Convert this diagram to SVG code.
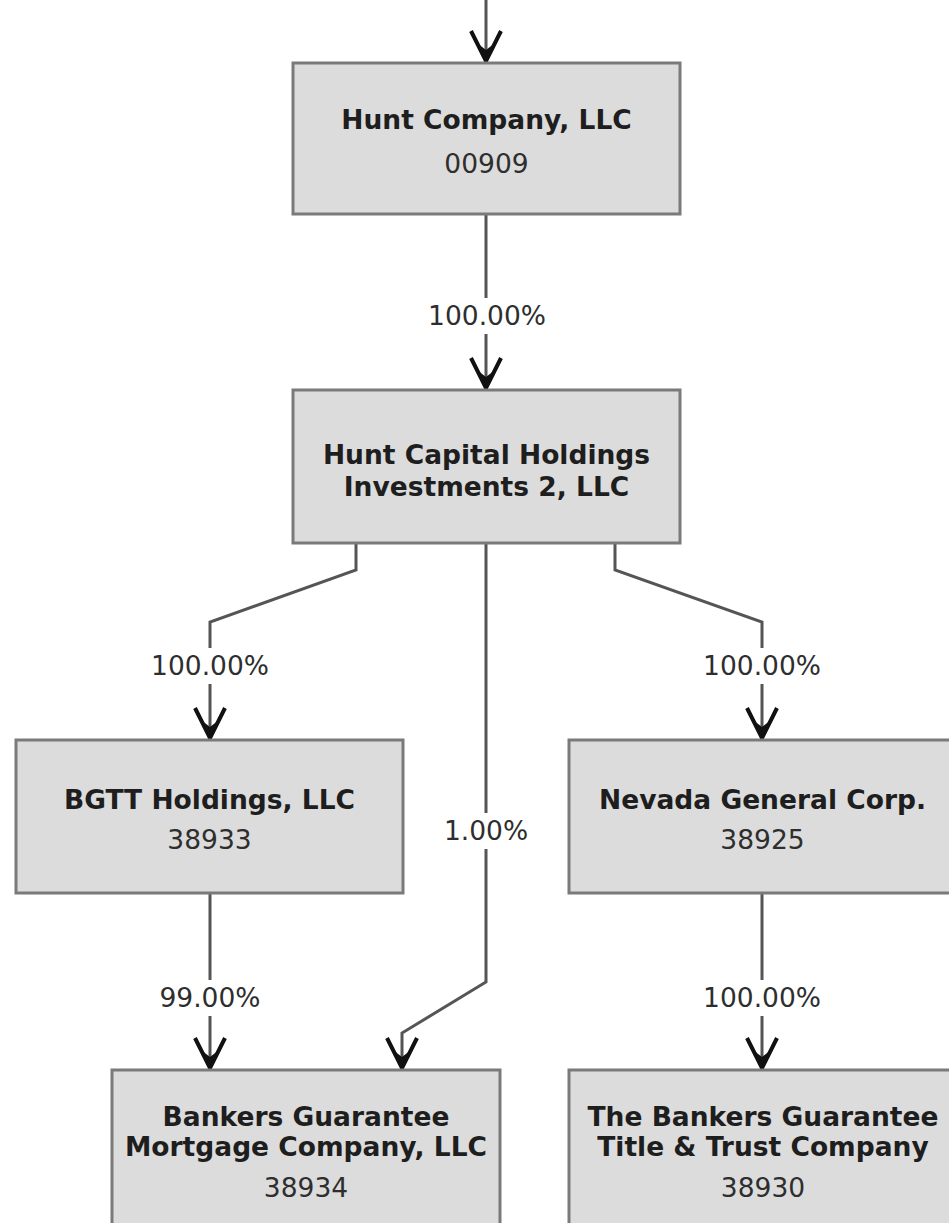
<svg xmlns="http://www.w3.org/2000/svg" width="949" height="1223" viewBox="0 0 949 1223">
  <style>
    .box { fill: #dcdcdc; stroke: #7a7a7a; stroke-width: 3; }
    .title { font-family: "DejaVu Sans", Verdana, sans-serif; font-size: 26.5px; font-weight: bold; fill: #1e1e1e; text-anchor: middle; }
    .num { font-family: "DejaVu Sans", Verdana, sans-serif; font-size: 26.5px; fill: #2e2e2e; text-anchor: middle; }
    .lbl { font-family: "DejaVu Sans", Verdana, sans-serif; font-size: 26.5px; fill: #2e2e2e; text-anchor: middle; }
    .conn { fill: none; stroke: #555; stroke-width: 3; marker-end: url(#arrow); }
    .lblbg { fill: #ffffff; }
  </style>
  <defs>
    <marker id="arrow" markerUnits="userSpaceOnUse" viewBox="-36 -18 40 36" refX="0" refY="0" markerWidth="40" markerHeight="36" orient="auto">
      <path d="M-32,-15 L-2,0 L-32,15" fill="none" stroke="#111" stroke-width="4"/>
      <path d="M0,0 L-20,-9 L-13,0 L-20,9 Z" fill="#111"/>
    </marker>
  </defs>
  <rect x="0" y="0" width="949" height="1223" fill="#ffffff"/>

  <g id="connectors">
    <path class="conn" d="M486,0 L486,63"/>
    <path class="conn" d="M486,214 L486,390"/>
    <path class="conn" d="M356,543 L356,570 L210,622 L210,740"/>
    <path class="conn" d="M486,543 L486,982 L402,1033 L402,1070"/>
    <path class="conn" d="M615,543 L615,570 L762,622 L762,740"/>
    <path class="conn" d="M210,893 L210,1070"/>
    <path class="conn" d="M762,893 L762,1070"/>
    <g id="labels">
      <rect class="lblbg" x="425" y="298" width="124" height="36"/>
      <text class="lbl" x="487" y="325">100.00%</text>
      <rect class="lblbg" x="148" y="648" width="124" height="36"/>
      <text class="lbl" x="210" y="675">100.00%</text>
      <rect class="lblbg" x="700" y="648" width="124" height="36"/>
      <text class="lbl" x="762" y="675">100.00%</text>
      <rect class="lblbg" x="441" y="813" width="90" height="36"/>
      <text class="lbl" x="486" y="840">1.00%</text>
      <rect class="lblbg" x="158" y="980" width="104" height="36"/>
      <text class="lbl" x="210" y="1007">99.00%</text>
      <rect class="lblbg" x="700" y="980" width="124" height="36"/>
      <text class="lbl" x="762" y="1007">100.00%</text>
    </g>
  </g>

  <g id="hunt-company">
    <rect class="box" x="293" y="63" width="387" height="151"/>
    <text class="title" x="486.5" y="129">Hunt Company, LLC</text>
    <text class="num" x="486.5" y="173">00909</text>
  </g>

  <g id="hunt-capital">
    <rect class="box" x="293" y="390" width="387" height="153"/>
    <text class="title" x="486.5" y="464">Hunt Capital Holdings</text>
    <text class="title" x="486.5" y="496">Investments 2, LLC</text>
  </g>

  <g id="bgtt">
    <rect class="box" x="16" y="740" width="387" height="153"/>
    <text class="title" x="209.5" y="809">BGTT Holdings, LLC</text>
    <text class="num" x="209.5" y="849">38933</text>
  </g>

  <g id="nevada">
    <rect class="box" x="569" y="740" width="387" height="153"/>
    <text class="title" x="762.5" y="809">Nevada General Corp.</text>
    <text class="num" x="762.5" y="849">38925</text>
  </g>

  <g id="bankers-mortgage">
    <rect class="box" x="112" y="1070" width="388" height="170"/>
    <text class="title" x="306" y="1126">Bankers Guarantee</text>
    <text class="title" x="306" y="1156">Mortgage Company, LLC</text>
    <text class="num" x="306" y="1197">38934</text>
  </g>

  <g id="bankers-title">
    <rect class="box" x="569" y="1070" width="388" height="170"/>
    <text class="title" x="763" y="1126">The Bankers Guarantee</text>
    <text class="title" x="763" y="1156">Title &amp; Trust Company</text>
    <text class="num" x="763" y="1197">38930</text>
  </g>
</svg>
